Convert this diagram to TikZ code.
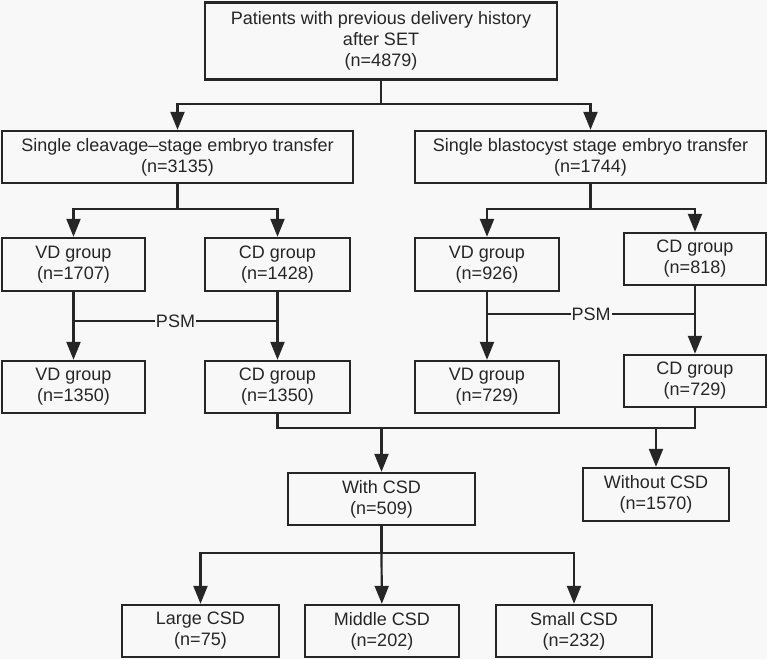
\documentclass[tikz,border=0pt]{standalone}
\usepackage{fontspec}
\setmainfont{Liberation Sans}
\usetikzlibrary{arrows.meta}

\definecolor{bgcol}{HTML}{F8F8F8}
\definecolor{inkcol}{HTML}{262626}

\tikzset{
	box/.style={draw=inkcol, line width=2.4pt, fill=bgcol, text=inkcol, align=center, inner sep=0pt,
		font=\fontsize{18}{21}\selectfont, execute at begin node={\rule{0pt}{22pt}}},
	line/.style={draw=inkcol, line width=2.2pt},
	arr/.style={line, -{Triangle[width=14pt,length=18pt]}},
	psm/.style={fill=bgcol, text=inkcol, inner sep=1pt, font=\fontsize{18}{20}\selectfont}
}

\begin{document}
\begin{tikzpicture}[x=1pt,y=-1pt]
		%background
		\fill[bgcol] (0,0) rectangle (767,659);
		\useasboundingbox (0,0) rectangle (767,659);
		
		%boxes
		\node[box, minimum width=352, minimum height=77] (top) at (381,41) {Patients with previous delivery history\\after SET\\(n=4879)};
		
		\node[box, minimum width=351, minimum height=52] (cleav) at (177.5,157) {Single cleavage–stage embryo transfer\\(n=3135)};
		\node[box, minimum width=351, minimum height=52] (blast) at (590.5,157) {Single blastocyst stage embryo transfer\\(n=1744)};
		
		\node[box, minimum width=143, minimum height=53] (vdA) at (73.5,264.5) {VD group\\(n=1707)};
		\node[box, minimum width=145, minimum height=53] (cdA) at (277.5,264.5) {CD group\\(n=1428)};
		\node[box, minimum width=144, minimum height=53] (vdB) at (487,264.5) {VD group\\(n=926)};
		\node[box, minimum width=142, minimum height=52] (cdB) at (695,259) {CD group\\(n=818)};
		
		\node[box, minimum width=143, minimum height=52] (vdAm) at (73.5,387) {VD group\\(n=1350)};
		\node[box, minimum width=145, minimum height=52] (cdAm) at (277.5,387) {CD group\\(n=1350)};
		\node[box, minimum width=144, minimum height=52] (vdBm) at (487,387) {VD group\\(n=729)};
		\node[box, minimum width=142, minimum height=52] (cdBm) at (695,381) {CD group\\(n=729)};
		
		\node[box, minimum width=187, minimum height=52] (with) at (381.5,499) {With CSD\\(n=509)};
		\node[box, minimum width=146, minimum height=53] (without) at (656,494.5) {Without CSD\\(n=1570)};
		
		\node[box, minimum width=157, minimum height=52] (large) at (200.5,631) {Large CSD\\(n=75)};
		\node[box, minimum width=154, minimum height=52] (middle) at (382,631) {Middle CSD\\(n=202)};
		\node[box, minimum width=156, minimum height=52] (small) at (574,631) {Small CSD\\(n=232)};
		
		%junctions
		\coordinate (jTop) at (381,104);
		\coordinate (jA) at (177.5,209);
		\coordinate (jB) at (590.5,209);
		\coordinate (psmAl) at (73.5,321);
		\coordinate (psmAr) at (277.5,321);
		\coordinate (psmBl) at (487,314);
		\coordinate (psmBr) at (695,314);
		\coordinate (mL) at (277.5,428);
		\coordinate (mR) at (695,428);
		\coordinate (jW) at (381.5,553);
		
		%split by transfer stage
		\draw[line] (top) -- (jTop);
		\draw[arr] (jTop) -| (cleav);
		\draw[arr] (jTop) -| (blast);
		
		%split by delivery mode
		\draw[line] (cleav) -- (jA);
		\draw[arr] (jA) -| (vdA);
		\draw[arr] (jA) -| (cdA);
		\draw[line] (blast) -- (jB);
		\draw[arr] (jB) -| (vdB);
		\draw[arr] (jB) -| (cdB);
		
		%matching
		\draw[arr] (vdA) -- (vdAm);
		\draw[arr] (cdA) -- (cdAm);
		\draw[arr] (vdB) -- (vdBm);
		\draw[arr] (cdB) -- (cdBm);
		\draw[line] (psmAl) -- node[psm] {PSM} (psmAr);
		\draw[line] (psmBl) -- node[psm] {PSM} (psmBr);
		
		%merge of CD groups
		\draw[line] (cdAm) -- (mL) -- (mR) -- (cdBm);
		\draw[arr] (with.north |- mL) -- (with);
		\draw[arr] (without.north |- mL) -- (without);
		
		%CSD size
		\draw[line] (with) -- (jW);
		\draw[arr] (jW) -| (large);
		\draw[arr] (jW) -- (middle);
		\draw[arr] (jW) -| (small);
	
		\end{tikzpicture}
\end{document}
